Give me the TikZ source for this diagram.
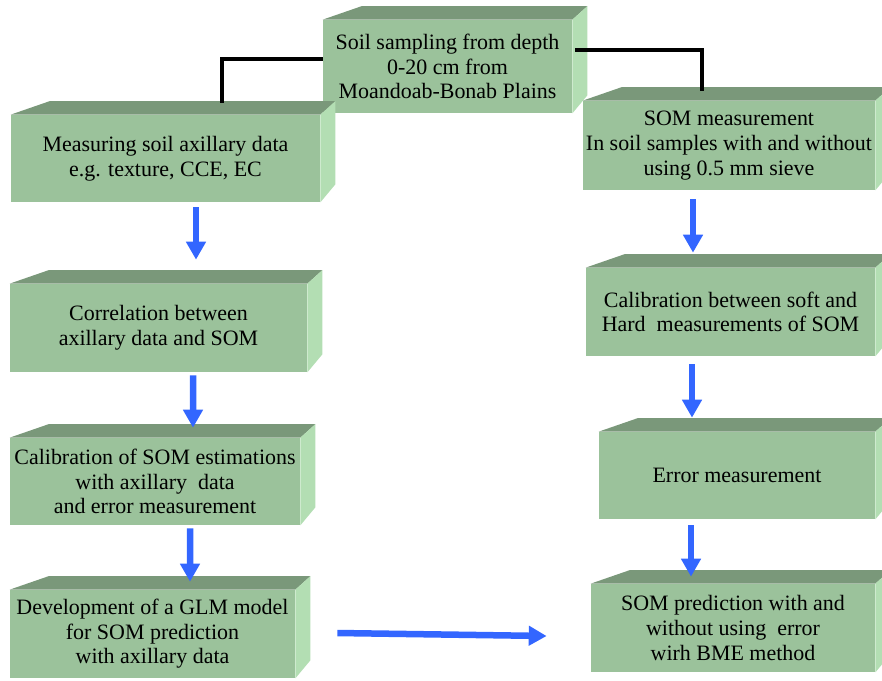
\documentclass[tikz,border=0pt]{standalone}
\usepackage{fontspec}
\setmainfont{Liberation Serif}
\usepackage{tikz}
\usetikzlibrary{arrows.meta}

\definecolor{frontgreen}{RGB}{155,194,155}
\definecolor{topgreen}{RGB}{122,152,122}
\definecolor{sidegreen}{RGB}{179,222,179}
\definecolor{flowblue}{RGB}{51,102,255}

\begin{document}
\begin{tikzpicture}[x=0.02cm,y=-0.02cm,line cap=butt,line join=miter,
  box/.style={fill=frontgreen,inner sep=0pt,align=center,
    font=\fontsize{12.5}{14}\selectfont},
  topface/.style={fill=topgreen},
  sideface/.style={fill=sidegreen},
  link/.style={line width=2.3pt,black},
  flow/.style={line width=3.7pt,flowblue,-{Triangle[width=10.8pt,length=10.2pt]}}]
\useasboundingbox (0,0) rectangle (882,680);

% front faces
\node[box,minimum width=249*0.02cm,minimum height=93*0.02cm] (soil) at (447.5,66.5)
  {Soil sampling from depth\\0-20 cm from\\Moandoab-Bonab Plains};
\node[box,minimum width=309*0.02cm,minimum height=87*0.02cm] (meas) at (165.5,158.5)
  {Measuring soil axillary data\\e.g. texture, CCE, EC};
\node[box,minimum width=297*0.02cm,minimum height=88*0.02cm] (corr) at (158.5,328)
  {Correlation between\\axillary data and SOM};
\node[box,minimum width=290*0.02cm,minimum height=87*0.02cm] (calib) at (155,481.5)
  {Calibration of SOM estimations\\with axillary\ \ data\\and error measurement};
\node[box,minimum width=285*0.02cm,minimum height=88*0.02cm] (glm) at (152.5,634)
  {Development of a GLM model\\for SOM prediction\\with axillary data};
\node[box,minimum width=292*0.02cm,minimum height=89*0.02cm] (som) at (729,145.5)
  {SOM measurement\\In soil samples with and without\\using 0.5 mm sieve};
\node[box,minimum width=289*0.02cm,minimum height=88*0.02cm] (soft) at (730.5,312)
  {Calibration between soft and\\Hard\ \ measurements of SOM};
\node[box,minimum width=276*0.02cm,minimum height=87*0.02cm] (err) at (737,475.5)
  {Error measurement};
\node[box,minimum width=284*0.02cm,minimum height=88*0.02cm] (bme) at (733,628)
  {SOM prediction with and\\without using\ \ error\\wirh BME method};

% top and side faces
\foreach \n in {soil,meas,corr,calib,glm,som,soft,err,bme} {
  \fill[topface] (\n.north west) -- ++(39,-13.5) -- ([shift={(15,-13.5)}]\n.north east)
    -- (\n.north east) -- cycle;
  \fill[sideface] (\n.north east) -- ++(15,-13.5) -- ([shift={(15,-18)}]\n.south east)
    -- (\n.south east) -- cycle;
}

% black links from the sampling box
\coordinate (measTop) at (222,103);
\coordinate (somTop) at (702,91);
\draw[link] ([shift={(0,-7.5)}]soil.west) -| (measTop);
\draw[link] ([shift={(3,-16.5)}]soil.east) -| (somTop);

% blue flow arrows
\draw[flow] ([shift={(30.5,5)}]meas.south) -- ([shift={(37.5,-24)}]corr.north);
\draw[flow] ([shift={(34.5,3)}]corr.south) -- ([shift={(38,-10)}]calib.north);
\draw[flow] ([shift={(35,3)}]calib.south) -- ([shift={(37.5,-8)}]glm.north);
\draw[flow] ([shift={(-36,9)}]som.south) -- ([shift={(-37.5,-15)}]soft.north);
\draw[flow] ([shift={(-38.5,8)}]soft.south) -- ([shift={(-45,-14)}]err.north);
\draw[flow] ([shift={(-46,6)}]err.south) -- ([shift={(-42,-7)}]bme.north);
\draw[flow] ([shift={(42,-1)}]glm.east) -- ([shift={(-44,8)}]bme.west);
\end{tikzpicture}
\end{document}
